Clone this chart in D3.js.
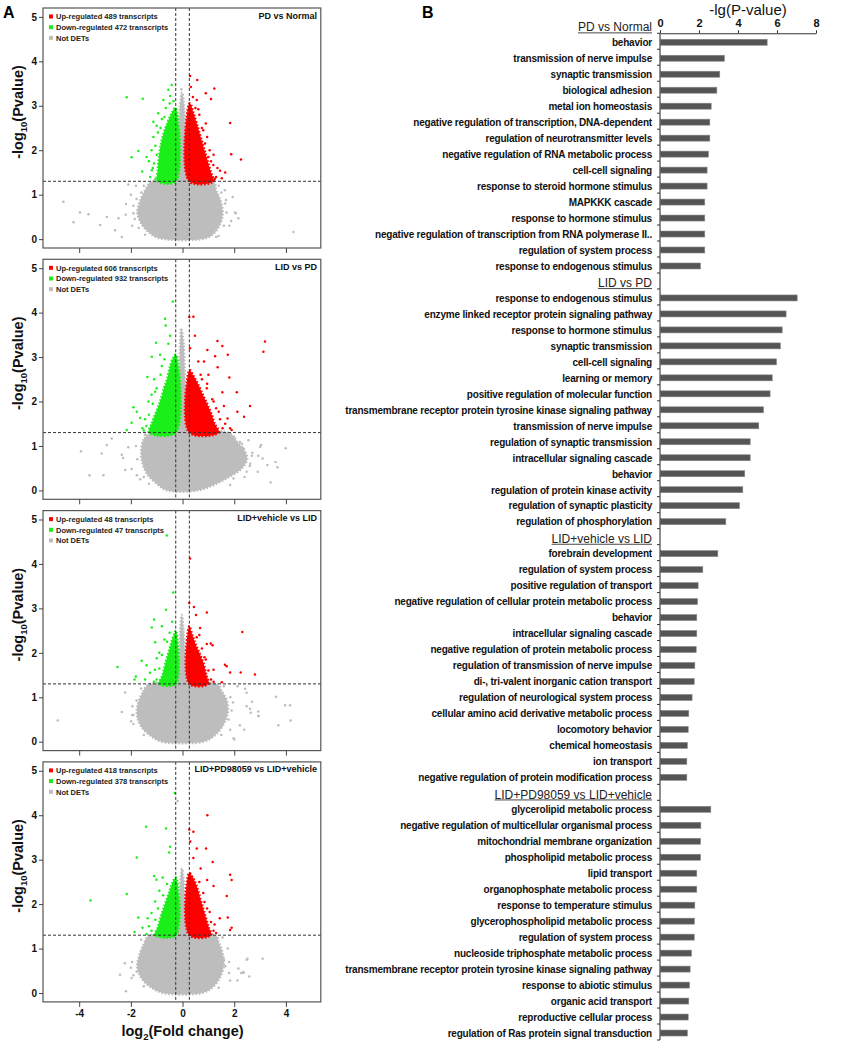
<!DOCTYPE html>
<html>
<head>
<meta charset="utf-8">
<script src="https://cdn.jsdelivr.net/npm/d3@7"></script>
<style>
  body { margin: 0; background: #fff; }
  svg { font-family: "Liberation Sans", Arial, sans-serif; }
</style>
</head>
<body>
<svg id="chart" width="856" height="1045"></svg>
<script>
// ---------- panel A data ----------
var panelTitles = ["PD vs Normal", "LID vs PD", "LID+vehicle vs LID", "LID+PD98059 vs LID+vehicle"];
var upCounts = [489, 606, 48, 418];
var downCounts = [472, 932, 47, 378];

// dense cores of each cloud, outlined as [log2FC, -log10 p]
var p1GrayCore = [[-1.2,1.29],[-1.45,1.1],[-1.65,0.85],[-1.75,0.6],[-1.6,0.35],[-1.3,0.15],[-0.9,0.02],[0.9,0.02],[1.25,0.15],[1.5,0.4],[1.55,0.65],[1.45,0.9],[1.3,1.1],[1.2,1.29]];
var p1Spike = [[-0.18,1.3],[-0.14,2.2],[-0.1,3.0],[-0.02,3.3],[0.06,3.0],[0.1,2.2],[0.16,1.3]];
var p1GreenCore = [[-0.26,1.3],[-0.95,1.3],[-0.95,1.6],[-0.9,1.9],[-0.85,2.1],[-0.75,2.35],[-0.6,2.6],[-0.45,2.8],[-0.3,2.95],[-0.26,2.95]];
var p1RedCore = [[0.26,1.3],[1.2,1.3],[1.1,1.5],[0.95,1.8],[0.85,2.0],[0.7,2.3],[0.55,2.6],[0.42,2.85],[0.3,3.05],[0.26,3.05]];
var p1Green = [[-2.16,3.19],[-1.54,3.16],[-1.71,1.98],[-1.97,1.84],[-1.39,1.85],[-1.56,1.52],[-1.19,1.55],[-1.13,2.30],[-1.13,2.64],[-0.94,2.83],[-0.74,3.13],[-0.55,3.36],[-0.42,3.47],[-0.48,3.22],[-1.05,2.1],[-1.1,1.7],[-1.25,1.4],[-0.8,2.7],[-0.65,2.95],[-0.35,3.1],
  [-1.05,1.35],[-1.15,1.6],[-1.0,1.9],[-1.2,2.0],[-0.95,2.4],[-1.0,2.55],[-0.85,2.5],[-1.3,1.75],[-0.7,2.75],[-0.5,3.05]];
var p1Red = [[0.29,3.67],[0.57,3.58],[0.32,3.42],[0.90,3.28],[1.23,3.39],[1.10,3.15],[0.55,3.13],[0.61,2.92],[1.84,2.61],[1.88,1.91],[2.26,1.79],[1.45,1.54],[1.65,1.50],[1.52,1.37],[1.19,1.67],[1.00,1.85],[0.87,2.15],[0.75,2.5],[0.4,3.2],[1.3,1.4],
  [1.25,1.35],[1.35,1.6],[1.1,1.75],[1.05,2.0],[0.95,2.3],[0.8,2.45],[0.65,2.8],[0.5,2.95],[1.2,1.9],[0.9,2.6]];
var p1Gray = [[-4.61,0.84],[-3.97,0.60],[-3.64,0.56],[-4.22,0.38],[-3.19,0.32],[-2.93,0.50],[-2.61,0.20],[-2.35,0.05],[-2.48,0.47],[-2.19,0.79],[-2.10,1.23],[-2.00,1.0],[-1.90,0.58],[-1.78,0.9],[4.29,0.16],[1.94,0.95],[2.06,0.58],[2.16,0.47],[1.88,0.41],[1.81,0.30],[1.39,0.07],[1.64,1.10],[1.68,0.88],[2.03,0.60],[-0.05,3.37],[-1.8,1.2],[-1.95,0.3],[1.7,0.6],
  [-1.9,0.75],[-1.85,0.45],[-1.5,1.2],[-1.6,1.05],[-1.7,0.25],[-1.45,0.1],[1.6,0.3],[1.65,0.8],[1.5,1.05],[1.4,1.2],[1.3,0.05],[-2.2,0.55]];

var p2GrayCore = [[-1.2,1.29],[-1.5,1.15],[-1.6,0.9],[-1.55,0.6],[-1.35,0.35],[-1.0,0.15],[-0.6,0.0],[0.6,0.0],[1.2,0.12],[1.8,0.3],[2.3,0.5],[2.5,0.7],[2.4,0.9],[2.1,1.1],[1.8,1.29]];
var p2Spike = [[-0.18,1.3],[-0.14,2.3],[-0.1,3.2],[-0.05,3.65],[0.04,3.3],[0.1,2.3],[0.16,1.3]];
var p2GreenCore = [[-0.26,1.3],[-1.3,1.3],[-1.2,1.5],[-1.0,1.8],[-0.87,2.0],[-0.72,2.3],[-0.6,2.5],[-0.48,2.8],[-0.35,3.0],[-0.26,3.05]];
var p2RedCore = [[0.26,1.3],[1.4,1.3],[1.25,1.5],[1.1,1.75],[0.95,1.95],[0.75,2.2],[0.55,2.45],[0.4,2.6],[0.3,2.7],[0.26,2.7]];
var p2Green = [[-0.38,4.25],[-0.68,3.86],[-0.48,3.48],[-0.65,3.71],[-1.03,3.32],[-1.36,2.55],[-1.06,2.22],[-1.90,1.87],[-1.77,1.77],[-1.97,1.52],[-2.16,1.36],[-1.64,1.63],[-1.32,2.0],[-1.19,3.01],[-0.87,3.05],[-0.8,2.8],[-1.1,2.5],[-1.45,1.6],[-1.55,1.4],[-0.55,3.3],
  [-1.4,1.45],[-1.3,1.7],[-1.15,1.95],[-1.0,2.3],[-0.85,2.6],[-0.7,2.95],[-1.5,1.35],[-1.2,2.15]];
var p2Red = [[0.26,3.90],[0.42,3.91],[0.48,3.48],[0.29,3.2],[1.35,3.36],[1.54,3.25],[0.96,3.16],[1.26,3.02],[1.75,3.05],[0.83,2.90],[0.61,2.90],[1.36,2.77],[1.81,2.54],[2.10,2.21],[1.54,2.21],[2.61,1.90],[2.12,1.77],[2.38,1.66],[3.19,3.35],[3.13,3.12],[1.74,1.62],[1.84,1.40],[1.90,1.36],[1.40,1.77],[0.94,2.3],[1.2,2.0],[1.6,1.9],[0.7,2.6],
  [1.55,1.4],[1.45,1.6],[1.3,1.85],[1.15,2.05],[0.95,2.4],[0.75,2.5],[1.65,1.5],[1.0,2.6]];
var p2Gray = [[-3.93,0.88],[-3.60,0.34],[-3.06,0.34],[-3.13,0.83],[-2.93,1.02],[-2.74,1.17],[-2.35,0.80],[-2.3,0.73],[-2.22,0.46],[-1.97,0.48],[-2.1,0.97],[-1.77,0.34],[-1.64,0.25],[3.99,0.95],[3.41,0.18],[3.67,0.52],[3.60,0.64],[3.28,0.57],[3.04,1.02],[3.0,0.98],[2.93,0.78],[2.91,0.42],[3.10,0.72],[2.68,0.78],[2.55,1.13],[2.62,0.6],[2.22,1.09],[2.35,0.95],[2.1,1.09],[2.48,0.42],[2.22,0.48],[1.97,0.27],[1.84,0.12],
  [-1.8,1.0],[-1.75,0.7],[-1.5,0.3],[-1.3,0.15],[2.7,0.85],[2.6,0.55],[2.4,0.3],[2.0,1.2],[2.3,1.05],[-1.45,1.25]];

var p3GrayCore = [[-1.3,1.29],[-1.55,1.1],[-1.75,0.8],[-1.75,0.55],[-1.55,0.3],[-1.2,0.12],[-0.8,0.0],[0.8,0.0],[1.2,0.12],[1.55,0.35],[1.75,0.65],[1.7,0.95],[1.5,1.15],[1.35,1.29]];
var p3Spike = [[-0.16,1.3],[-0.12,2.0],[-0.08,2.6],[-0.03,2.85],[0.04,2.5],[0.1,1.9],[0.16,1.3]];
var p3GreenCore = [[-0.26,1.3],[-0.9,1.3],[-0.78,1.5],[-0.65,1.8],[-0.5,2.1],[-0.4,2.3],[-0.3,2.45],[-0.26,2.5]];
var p3RedCore = [[0.26,1.3],[1.0,1.3],[0.92,1.5],[0.82,1.75],[0.65,2.0],[0.5,2.2],[0.38,2.4],[0.26,2.6]];
var p3Green = [[-0.61,4.64],[-0.36,3.36],[-0.64,2.97],[-1.10,2.75],[-1.19,2.57],[-0.80,2.60],[-1.06,2.24],[-0.4,2.7],[-1.00,1.88],[-1.58,1.82],[-2.52,1.68],[-1.39,1.72],[-1.81,1.47],[-1.86,1.40],[-1.45,1.40],[-1.26,1.55],[-1.07,1.62],[-0.9,2.0],[-0.7,2.3],
  [-1.0,1.4],[-0.9,1.65],[-0.8,1.95],[-0.6,2.25],[-1.1,1.35],[-0.5,2.45]];
var p3Red = [[0.29,4.12],[0.26,3.12],[0.44,3.03],[0.94,2.91],[0.52,2.85],[0.68,2.56],[2.31,2.47],[1.09,2.21],[1.16,2.17],[1.64,1.73],[1.71,1.70],[1.84,1.56],[2.25,1.56],[2.80,1.51],[1.52,1.34],[1.2,1.62],[0.85,1.9],[0.94,2.2],[0.65,2.4],
  [1.1,1.4],[1.0,1.6],[0.9,1.85],[0.75,2.1],[1.2,1.35],[0.55,2.35]];
var p3Gray = [[-4.83,0.48],[-2.22,1.11],[-2.35,0.67],[-1.99,0.46],[-1.9,0.6],[-1.94,0.8],[-1.78,0.93],[1.97,0.08],[2.01,0.05],[1.84,0.27],[1.78,0.5],[1.95,0.88],[2.13,1.25],[2.48,1.10],[2.48,0.80],[2.64,0.65],[2.93,0.58],[2.69,0.9],[3.62,1.01],[3.97,0.82],[4.16,0.82],[4.18,0.48],[3.71,0.37],[2.39,0.27],[2.61,0.74],[2.42,1.19],[2.93,0.68],[2.95,0.58],[2.22,0.37],
  [-1.95,0.6],[-1.9,0.4],[-1.6,1.2],[-1.5,0.15],[1.9,0.7],[1.85,1.0],[1.6,1.25],[1.5,0.15]];

var p4GrayCore = [[-1.3,1.29],[-1.5,1.1],[-1.7,0.8],[-1.75,0.55],[-1.55,0.3],[-1.2,0.12],[-0.75,0.0],[0.75,0.0],[1.15,0.12],[1.45,0.35],[1.6,0.65],[1.55,0.9],[1.4,1.15],[1.3,1.29]];
var p4Spike = [[-0.16,1.3],[-0.12,2.0],[-0.07,2.6],[-0.02,2.8],[0.05,2.5],[0.1,1.9],[0.16,1.3]];
var p4GreenCore = [[-0.26,1.3],[-1.05,1.3],[-0.95,1.5],[-0.8,1.8],[-0.65,2.05],[-0.5,2.3],[-0.38,2.5],[-0.26,2.6]];
var p4RedCore = [[0.26,1.3],[1.1,1.3],[1.0,1.5],[0.85,1.8],[0.7,2.1],[0.55,2.4],[0.4,2.6],[0.26,2.7]];
var p4Green = [[-0.30,4.50],[-1.41,3.74],[-0.64,3.70],[-0.48,3.29],[-1.77,3.05],[-0.52,3.16],[-1.10,2.63],[-1.01,2.55],[-0.77,2.6],[-2.16,2.23],[-3.56,2.08],[-1.71,1.70],[-1.86,1.37],[-1.35,1.68],[-1.55,1.47],[-1.39,1.33],[-1.06,2.06],[-1.2,1.8],[-0.9,2.3],
  [-1.2,1.4],[-1.05,1.65],[-0.95,1.9],[-0.75,2.2],[-0.6,2.45],[-1.3,1.5]];
var p4Red = [[0.96,4.00],[0.26,3.68],[0.42,3.63],[0.30,3.41],[0.55,3.25],[0.91,3.25],[1.17,2.95],[0.42,3.04],[1.84,2.66],[1.90,2.54],[0.95,2.54],[1.2,2.41],[1.71,2.18],[1.75,1.70],[1.84,1.42],[1.90,1.47],[1.24,1.54],[1.44,1.68],[1.05,1.82],[0.85,2.05],[0.7,2.8],
  [1.2,1.4],[1.1,1.6],[0.95,1.9],[0.8,2.25],[0.65,2.5],[1.3,1.35]];
var p4Gray = [[-0.19,4.32],[-2.42,0.41],[-2.23,0.67],[-2.19,0.04],[-1.97,0.34],[-1.78,0.48],[-2.0,0.57],[2.48,0.75],[3.10,0.77],[2.16,0.55],[2.12,0.28],[2.36,0.45],[2.58,0.37],[1.8,0.45],[1.84,0.28],[1.65,0.6],[1.6,0.75],[2.51,0.77],[2.35,0.47],[2.27,0.45],
  [-1.95,0.7],[-1.9,0.4],[-1.6,1.2],[-1.5,0.15],[1.8,0.7],[1.75,1.0],[1.55,1.25],[1.4,0.12]];

var xTicksA = [-4, -2, 0, 2, 4];
var yTicksA = [0, 1, 2, 3, 4, 5];

// ---------- panel B data ----------
var groupNames = ["PD vs Normal", "LID vs PD", "LID+vehicle vs LID", "LID+PD98059 vs LID+vehicle"];
var termsPDNormal = ["behavior","transmission of nerve impulse","synaptic transmission","biological adhesion","metal ion homeostasis","negative regulation of transcription, DNA-dependent","regulation of neurotransmitter levels","negative regulation of RNA metabolic process","cell-cell signaling","response to steroid hormone stimulus","MAPKKK cascade","response to hormone stimulus","negative regulation of transcription from RNA polymerase II..","regulation of system process","response to endogenous stimulus"];
var valsPDNormal = [5.47,3.28,3.04,2.89,2.60,2.53,2.53,2.46,2.39,2.39,2.27,2.27,2.27,2.27,2.05];
var termsLIDPD = ["response to endogenous stimulus","enzyme linked receptor protein signaling pathway","response to hormone stimulus","synaptic transmission","cell-cell signaling","learning or memory","positive regulation of molecular function","transmembrane receptor protein tyrosine kinase signaling pathway","transmission of nerve impulse","regulation of synaptic transmission","intracellular signaling cascade","behavior","regulation of protein kinase activity","regulation of synaptic plasticity","regulation of phosphorylation"];
var valsLIDPD = [7.01,6.44,6.24,6.15,5.95,5.73,5.62,5.28,5.04,4.60,4.60,4.32,4.22,4.05,3.35];
var termsVehicle = ["forebrain development","regulation of system process","positive regulation of transport","negative regulation of cellular protein metabolic process","behavior","intracellular signaling cascade","negative regulation of protein metabolic process","regulation of transmission of nerve impulse","di-, tri-valent inorganic cation transport","regulation of neurological system process","cellular amino acid derivative metabolic process","locomotory behavior","chemical homeostasis","ion transport","negative regulation of protein modification process"];
var valsVehicle = [2.94,2.17,1.93,1.90,1.86,1.86,1.83,1.76,1.73,1.62,1.45,1.42,1.38,1.35,1.35];
var termsPD98059 = ["glycerolipid metabolic process","negative regulation of multicellular organismal process","mitochondrial membrane organization","phospholipid metabolic process","lipid transport","organophosphate metabolic process","response to temperature stimulus","glycerophospholipid metabolic process","regulation of system process","nucleoside triphosphate metabolic process","transmembrane receptor protein tyrosine kinase signaling pathway","response to abiotic stimulus","organic acid transport","reproductive cellular process","regulation of Ras protein signal transduction"];
var valsPD98059 = [2.58,2.07,2.05,2.05,1.86,1.86,1.76,1.74,1.73,1.59,1.52,1.49,1.45,1.42,1.38];
var xTicksB = [0, 2, 4, 6, 8];

var RED = "#ff0000", GREEN = "#1aef1a", GRAY = "#bdbdbd";

var svg = d3.select("#chart");

// ---------- panel A ----------
var panels = [
  {core: p1GrayCore, spike: p1Spike, gcore: p1GreenCore, rcore: p1RedCore, gray: p1Gray, green: p1Green, red: p1Red},
  {core: p2GrayCore, spike: p2Spike, gcore: p2GreenCore, rcore: p2RedCore, gray: p2Gray, green: p2Green, red: p2Red},
  {core: p3GrayCore, spike: p3Spike, gcore: p3GreenCore, rcore: p3RedCore, gray: p3Gray, green: p3Green, red: p3Red},
  {core: p4GrayCore, spike: p4Spike, gcore: p4GreenCore, rcore: p4RedCore, gray: p4Gray, green: p4Green, red: p4Red}
];

var xA = d3.scaleLinear().domain([-5.4, 5.35]).range([43, 320.8]);
var panelH = 240;

panels.forEach(function (p, i) {
  var top = 8 + i * 251.3;
  var y = d3.scaleLinear().domain([-0.2, 5.2]).range([top + panelH, top]);
  var g = svg.append("g");

  var shape = d3.line()
    .x(function (d) { return xA(d[0]); })
    .y(function (d) { return y(d[1]); })
    .curve(d3.curveCatmullRomClosed.alpha(0.5));

  // dense clouds, speckled edge so they read like points
  function blob(pts, col) {
    g.append("path").attr("d", shape(pts))
      .attr("fill", col).attr("stroke", col)
      .attr("stroke-width", 2.4).attr("stroke-dasharray", "1.6,1.8");
  }
  function dots(pts, col) {
    g.selectAll(null).data(pts).enter().append("circle")
      .attr("cx", function (d) { return xA(d[0]); })
      .attr("cy", function (d) { return y(d[1]); })
      .attr("r", 1.25).attr("fill", col);
  }
  blob(p.core, GRAY);
  blob(p.spike, GRAY);
  dots(p.gray, GRAY);
  blob(p.gcore, GREEN);
  dots(p.green, GREEN);
  blob(p.rcore, RED);
  dots(p.red, RED);

  // thresholds
  var dash = g.append("g").attr("stroke", "#333").attr("stroke-width", 1).attr("stroke-dasharray", "3,2");
  [-0.263, 0.263].forEach(function (v) {
    dash.append("line").attr("x1", xA(v)).attr("x2", xA(v)).attr("y1", top).attr("y2", top + panelH);
  });
  dash.append("line").attr("x1", 43).attr("x2", 320.8).attr("y1", y(1.301)).attr("y2", y(1.301));

  // frame
  g.append("rect").attr("x", 43).attr("y", top).attr("width", 277.8).attr("height", panelH)
    .attr("fill", "none").attr("stroke", "#555").attr("stroke-width", 1.2);

  // axes
  var ya = g.append("g").attr("transform", "translate(43,0)")
    .call(d3.axisLeft(y).tickValues(yTicksA).tickSize(4).tickPadding(2).tickFormat(function (d) { return String(d); }));
  ya.select(".domain").remove();
  var xa = g.append("g").attr("transform", "translate(0," + (top + panelH) + ")")
    .call(d3.axisBottom(xA).tickValues(xTicksA).tickSize(5).tickPadding(3)
      .tickFormat(function (d) { return i === 3 ? String(d) : ""; }));
  xa.select(".domain").remove();
  g.selectAll(".tick text").attr("font-family", "Liberation Sans, Arial, sans-serif")
    .attr("font-size", 10).attr("font-weight", "bold").attr("fill", "#111");
  g.selectAll(".tick line").attr("stroke", "#444");

  // title in corner
  g.append("text").attr("x", 317).attr("y", top + 10.5).attr("text-anchor", "end")
    .attr("font-size", 9).attr("font-weight", "bold").attr("fill", "#111").text(panelTitles[i]);

  // legend
  var leg = [
    [RED, "Up-regulated " + upCounts[i] + " transcripts"],
    [GREEN, "Down-regulated " + downCounts[i] + " transcripts"],
    [GRAY, "Not DETs"]
  ];
  leg.forEach(function (l, k) {
    var cy = top + 8.5 + k * 10.7;
    g.append("rect").attr("x", 49).attr("y", cy - 2).attr("width", 4).attr("height", 4).attr("fill", l[0]);
    g.append("text").attr("x", 56).attr("y", cy + 2.7)
      .attr("font-size", 7.5).attr("font-weight", "bold").attr("fill", "#222").text(l[1]);
  });

  // y title
  var yt = g.append("text")
    .attr("transform", "translate(23," + (top + panelH / 2 - 16) + ") rotate(-90)")
    .attr("text-anchor", "middle").attr("font-size", 14.5).attr("font-weight", "bold").attr("fill", "#111");
  yt.append("tspan").text("-log");
  yt.append("tspan").attr("font-size", 9.5).attr("dy", 4).text("10");
  yt.append("tspan").attr("dy", -4).text("(Pvalue)");
});

// x title
var xt = svg.append("text").attr("x", 182.5).attr("y", 1036).attr("text-anchor", "middle")
  .attr("font-size", 14.5).attr("font-weight", "bold").attr("fill", "#111");
xt.append("tspan").text("log");
xt.append("tspan").attr("font-size", 9.5).attr("dy", 4).text("2");
xt.append("tspan").attr("dy", -4).text("(Fold change)");

svg.append("text").attr("x", 3).attr("y", 18).attr("font-size", 16).attr("font-weight", "bold").text("A");
svg.append("text").attr("x", 422).attr("y", 18).attr("font-size", 16).attr("font-weight", "bold").text("B");

// ---------- panel B ----------
var groupTerms = [termsPDNormal, termsLIDPD, termsVehicle, termsPD98059];
var groupVals = [valsPDNormal, valsLIDPD, valsVehicle, valsPD98059];
var rows = [];
groupNames.forEach(function (name, gi) {
  rows.push({header: true, label: name});
  groupTerms[gi].forEach(function (t, k) {
    rows.push({header: false, label: t, value: groupVals[gi][k]});
  });
});

var step = 15.98;
var yB = d3.scaleBand().domain(d3.range(rows.length)).range([17.3, 17.3 + rows.length * step]);
var xB = d3.scaleLinear().domain([0, 8]).range([660, 816]);
var axisTopY = yB(1);
var axisBottomY = 17.3 + rows.length * step;

var gb = svg.append("g");

gb.selectAll(".bar")
  .data(rows.filter(function (r) { return !r.header; }))
  .enter().append("rect")
  .attr("class", "bar")
  .attr("x", xB(0) + 0.5)
  .attr("y", function (r) { return yB(rows.indexOf(r)) + yB.bandwidth() / 2 + 1 - 3; })
  .attr("width", function (r) { return xB(r.value) - xB(0); })
  .attr("height", 6)
  .attr("fill", "#555").attr("stroke", "#8a8a8a").attr("stroke-width", 0.6);

// labels
rows.forEach(function (r, k) {
  var cy = yB(k) + yB.bandwidth() / 2;
  if (r.header) {
    var t = gb.append("text").attr("x", 652).attr("y", cy + 6.2).attr("text-anchor", "end")
      .attr("font-size", 12).attr("fill", "#222").text(r.label);
    var w = t.node().getComputedTextLength();
    gb.append("line").attr("x1", 652 - w).attr("x2", 652).attr("y1", cy + 7.6).attr("y2", cy + 7.6)
      .attr("stroke", "#333").attr("stroke-width", 0.9);
  } else {
    gb.append("text").attr("x", 652).attr("y", cy + 4.8).attr("text-anchor", "end")
      .attr("font-size", 10).attr("font-weight", "bold").attr("letter-spacing", "-0.2px")
      .attr("fill", "#111").text(r.label);
  }
});

// left axis with a tick at every row boundary
gb.append("line").attr("x1", 660).attr("x2", 660).attr("y1", axisTopY).attr("y2", axisBottomY)
  .attr("stroke", "#333").attr("stroke-width", 1.1);
d3.range(1, rows.length + 1).forEach(function (k) {
  var yy = 17.3 + k * step;
  gb.append("line").attr("x1", 657).attr("x2", 660).attr("y1", yy).attr("y2", yy)
    .attr("stroke", "#333").attr("stroke-width", 1);
});

// top axis
var xaB = gb.append("g").attr("transform", "translate(0," + axisTopY + ")")
  .call(d3.axisTop(xB).tickValues(xTicksB).tickSize(3).tickSizeOuter(0).tickPadding(3));
xaB.select(".domain").attr("stroke", "#333").attr("stroke-width", 1.1);
xaB.selectAll(".tick line").attr("stroke", "#333");
xaB.selectAll(".tick text").attr("font-family", "Liberation Sans, Arial, sans-serif")
  .attr("font-size", 11).attr("font-weight", "bold").attr("fill", "#111");

gb.append("text").attr("x", 748).attr("y", 15).attr("text-anchor", "middle")
  .attr("font-size", 15).attr("fill", "#111").text("-lg(P-value)");
</script>
</body>
</html>
